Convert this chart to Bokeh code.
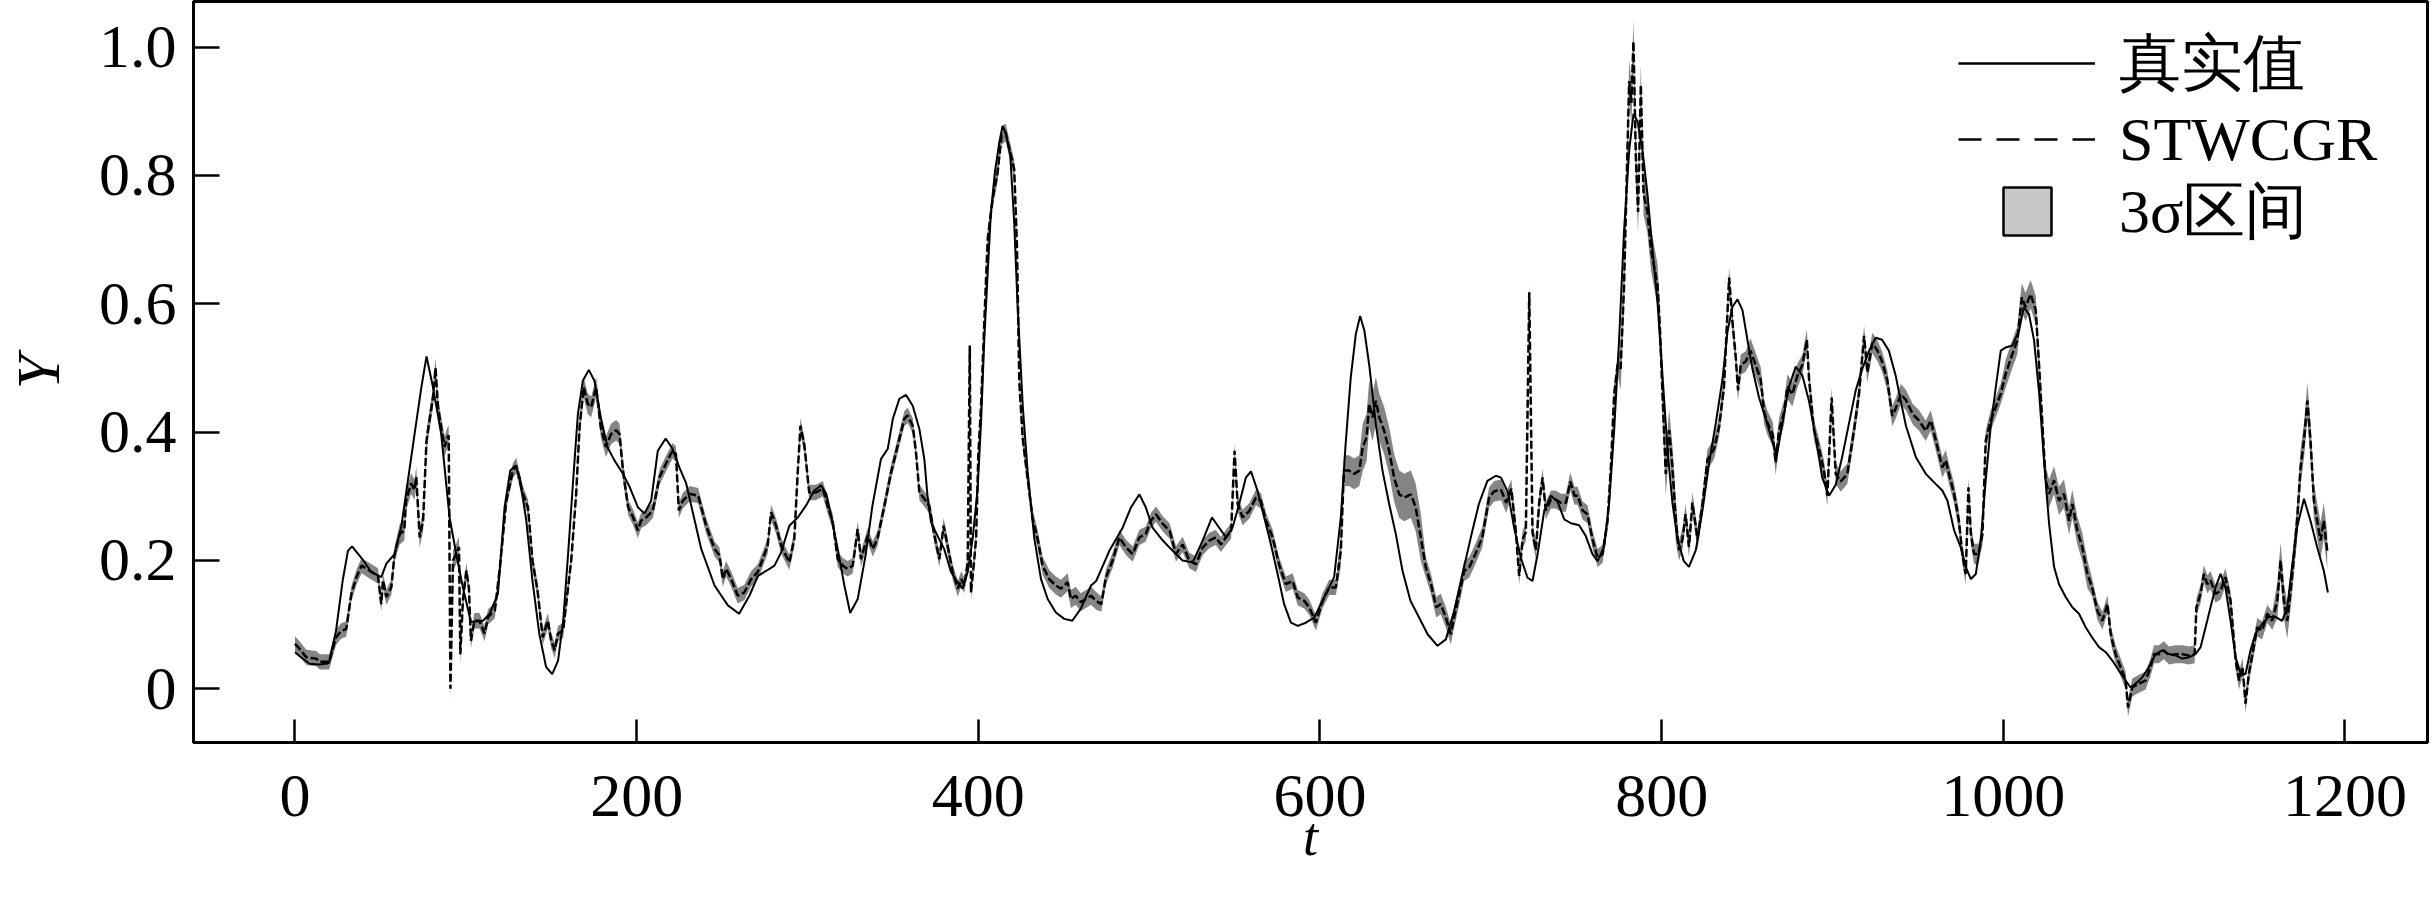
import numpy as np
from bokeh.plotting import figure
from bokeh.models import ColumnDataSource, FixedTicker, Legend, LegendItem, Range1d
from bokeh.core.properties import value
from bokeh.embed import file_html
from bokeh.resources import INLINE

# ---------------- data ----------------
t_true = [0, 4, 8.6, 14, 18.4, 20, 24, 28, 31, 33.4, 40, 44.7, 50.5, 53.5, 58.3, 62.2, 65, 70, 74, 77,
          80.8, 85.6, 90.5, 94.4, 98.3, 103, 110, 114, 118.8, 122.7, 126, 129, 131.5, 135.4, 139, 143, 147,
          150.6, 154, 157, 160, 162.7, 165.6, 168.5, 172, 175.3, 179, 183, 187, 192, 196, 200.7, 204.6,
          208.5, 212.4, 217, 221, 225, 229, 232, 237.8, 245.6, 253.4, 260, 266, 271, 276, 280.7, 284.6,
          289.4, 294.3, 299, 304, 308, 311, 313.8, 317.7, 321.6, 325, 329.4, 334, 338, 343, 347, 350,
          353.8, 357.7, 361.6, 365.5, 368.4, 370.4, 372.3, 376, 380, 384, 388, 390.8, 393.8, 396.7, 399.6,
          401.6, 403.5, 405.5, 407.4, 409.7, 412.3, 414.2, 416, 418.7, 421, 423, 426, 428.9, 432.8, 436.7,
          440.6, 445.4, 450.3, 455, 460, 466, 469, 476.7, 484.5, 489.4, 494.3, 498, 502, 508, 513.8, 519.6,
          525.5, 531.3, 536.8, 541, 545, 548.8, 552.7, 556.6, 559.6, 563.5, 567.4, 571.3, 575.2, 579, 583,
          587, 591.7, 596.6, 600.5, 604.4, 608.3, 612.2, 615, 618, 621, 623.5, 626, 629, 632.7, 636.6,
          640.5, 644.4, 648.3, 653, 658, 663, 668.8, 673.7, 678.5, 683.4, 688.3, 693, 698, 703, 706, 710,
          713.7, 717.6, 721.5, 724.4, 727.4, 731.3, 735.2, 739, 743, 746.9, 751.7, 755.6, 759.5, 762.5,
          766.3, 769.3, 772.2, 775.1, 778, 781, 783.5, 785.9, 788.8, 791.7, 794.6, 797.6, 800.5, 803.4,
          806.3, 809.3, 813, 816, 820, 823.9, 827.8, 831.7, 835.6, 838.5, 841.4, 844.4, 847.3, 850.2,
          853.1, 857, 861, 864.8, 867.4, 870.7, 874.6, 878.5, 882.4, 886.3, 890.2, 894, 898, 901.9, 905.8,
          909.7, 913.6, 917.5, 921.4, 925.3, 929, 933, 937, 940, 943, 948.8, 954.6, 960.5, 964.3, 967.3,
          971.2, 975, 978, 981, 983.9, 986.8, 989.7, 992.6, 995.6, 998.5, 1001.4, 1005.3, 1009.2, 1012,
          1015, 1018, 1021, 1023.8, 1026.8, 1029.7, 1032.6, 1036.5, 1040.4, 1044.3, 1048.2, 1052, 1056,
          1060, 1063.8, 1067.7, 1071.6, 1074.5, 1077.5, 1081.4, 1085.3, 1089.1, 1093, 1097, 1100.8,
          1104.7, 1108.6, 1112.5, 1115.5, 1118.4, 1121.3, 1124.2, 1127.2, 1130, 1133, 1136, 1139, 1141.8,
          1144.7, 1147.6, 1151.5, 1155.4, 1159.3, 1163.2, 1166.2, 1169, 1172, 1176, 1179.8, 1183.7,
          1187.6, 1190]
y_true = [0.057, 0.048, 0.039, 0.038, 0.039, 0.041, 0.09, 0.17, 0.215, 0.222, 0.20, 0.182, 0.174, 0.195,
          0.21, 0.252, 0.304, 0.397, 0.47, 0.518, 0.47, 0.397, 0.267, 0.21, 0.158, 0.104, 0.106, 0.117,
          0.148, 0.283, 0.34, 0.348, 0.33, 0.262, 0.169, 0.086, 0.034, 0.023, 0.044, 0.106, 0.215, 0.32,
          0.428, 0.48, 0.497, 0.48, 0.423, 0.376, 0.356, 0.335, 0.314, 0.283, 0.273, 0.293, 0.371, 0.39,
          0.374, 0.345, 0.32, 0.285, 0.218, 0.161, 0.13, 0.117, 0.145, 0.176, 0.184, 0.192, 0.213, 0.254,
          0.267, 0.285, 0.309, 0.317, 0.304, 0.27, 0.218, 0.161, 0.118, 0.14, 0.208, 0.285, 0.358, 0.374,
          0.421, 0.452, 0.458, 0.441, 0.405, 0.358, 0.296, 0.26, 0.239, 0.218, 0.182, 0.166, 0.156, 0.182,
          0.234, 0.312, 0.415, 0.545, 0.649, 0.743, 0.805, 0.852, 0.877, 0.867, 0.831, 0.727, 0.597,
          0.441, 0.338, 0.234, 0.171, 0.14, 0.119, 0.109, 0.106, 0.125, 0.161, 0.168, 0.215, 0.251, 0.283,
          0.303, 0.283, 0.251, 0.231, 0.215, 0.2, 0.197, 0.231, 0.267, 0.251, 0.236, 0.251, 0.288, 0.329,
          0.339, 0.308, 0.267, 0.225, 0.179, 0.132, 0.103, 0.098, 0.103, 0.111, 0.132, 0.153, 0.174,
          0.267, 0.381, 0.485, 0.553, 0.581, 0.558, 0.501, 0.412, 0.34, 0.288, 0.241, 0.184, 0.137, 0.111,
          0.085, 0.067, 0.077, 0.121, 0.179, 0.236, 0.288, 0.324, 0.332, 0.329, 0.306, 0.25, 0.204, 0.173,
          0.168, 0.21, 0.278, 0.301, 0.292, 0.264, 0.258, 0.255, 0.238, 0.21, 0.199, 0.221, 0.29, 0.403,
          0.544, 0.714, 0.839, 0.896, 0.884, 0.839, 0.771, 0.686, 0.601, 0.488, 0.374, 0.29, 0.233, 0.199,
          0.19, 0.216, 0.278, 0.352, 0.414, 0.482, 0.556, 0.595, 0.607, 0.59, 0.544, 0.499, 0.454, 0.42,
          0.386, 0.363, 0.414, 0.471, 0.502, 0.488, 0.448, 0.391, 0.329, 0.301, 0.318, 0.363, 0.414, 0.465,
          0.499, 0.527, 0.547, 0.544, 0.527, 0.488, 0.448, 0.41, 0.361, 0.335, 0.319, 0.309, 0.293, 0.247,
          0.221, 0.19, 0.171, 0.179, 0.231, 0.325, 0.408, 0.47, 0.527, 0.532, 0.535, 0.558, 0.595, 0.584,
          0.543, 0.46, 0.356, 0.257, 0.19, 0.163, 0.143, 0.127, 0.117, 0.096, 0.08, 0.065, 0.057, 0.044,
          0.028, 0.013, 0.002, 0.008, 0.018, 0.034, 0.054, 0.06, 0.054, 0.052, 0.047, 0.049, 0.054, 0.065,
          0.096, 0.127, 0.158, 0.179, 0.158, 0.106, 0.049, 0.023, 0.023, 0.06, 0.086, 0.101, 0.112, 0.112,
          0.106, 0.127, 0.19, 0.252, 0.296, 0.262, 0.221, 0.184, 0.15]

t_pred = [0, 1.8, 6.7, 12.5, 14.5, 20, 24, 27, 30, 33, 36, 39, 43.7, 48.6, 50.5, 51.5, 53.5, 56.4, 58.3,
          61.3, 64, 65, 68, 70, 71, 73, 75, 77, 79, 80.8, 82.3, 83.7, 85.6, 87.6, 88.6, 90, 91, 92.5, 94.4,
          96, 96.8, 98.3, 100.3, 101.8, 103, 105, 108, 111, 113, 117, 120, 123.7, 127.6, 129.5, 133.4,
          136.4, 139, 142, 145, 148, 150, 152, 154, 157, 159, 161.7, 164.6, 166.6, 169, 171.4, 173.4,
          176.3, 179, 182, 185, 188, 190, 192, 195, 198, 200.7, 202.6, 205.6, 209.5, 213.4, 217, 221, 223,
          224.7, 227, 231, 236, 240.7, 245.6, 248.5, 250.4, 252.4, 255.3, 259.2, 263, 267, 270.9, 273.8,
          276.7, 278.7, 281.6, 284.6, 289.4, 292.3, 294.3, 295.9, 298.2, 301, 305, 309, 311.8, 314.8,
          317.7, 320.6, 323.5, 326.5, 329.4, 331.3, 335.3, 338.2, 341, 345, 349, 352.8, 356.7, 358.7,
          361.6, 363.5, 365.5, 368.4, 371.3, 374.3, 377.2, 379.7, 382, 385, 388, 390, 391.8, 393.8, 395,
          395.7, 397.3, 398.7, 400, 401.6, 403.5, 405.5, 408.4, 411.3, 413.6, 416, 418.7, 421, 422.6, 424,
          426, 428.9, 431.8, 434.7, 437.6, 441.5, 445.4, 448.4, 452.3, 454.2, 457, 460, 463, 466, 469, 472,
          474.7, 478.6, 482.6, 486.5, 490.4, 494.3, 498, 501, 504, 508, 512, 515.7, 519.6, 523.5, 527.4,
          531.3, 535.2, 539, 542, 545, 548, 550, 551.8, 554.7, 558.6, 562.5, 565.4, 568.4, 572.3, 576,
          580, 584, 587, 590.8, 593.7, 597.6, 601.5, 605.4, 609.3, 612.2, 614, 617, 620, 623, 625, 627.3,
          628.8, 630.8, 632.7, 634.7, 637.6, 640.5, 643.4, 646.4, 649.3, 653.2, 656, 659, 662, 665, 668,
          670.7, 673.7, 676.6, 678.5, 681.5, 684.4, 687.3, 691, 695, 699, 702, 706, 709, 712, 714.7,
          716.6, 718.6, 720.5, 722.5, 724.4, 726.4, 728.3, 730.3, 732.2, 735.2, 738, 741, 744, 746.5, 749,
          750.8, 753.7, 756.6, 759.5, 762.5, 765.4, 768.3, 770.3, 772.2, 774.2, 776, 778, 779.6, 781,
          782.3, 783.5, 784.9, 786.2, 787.8, 789.4, 791.7, 793.7, 795.6, 797.6, 799, 800.5, 802.4, 804.4,
          806.3, 808.3, 810.2, 812.2, 814, 816, 818, 821, 824, 826.8, 830.7, 833.6, 836.5, 839.5, 841.4,
          843.4, 844.7, 846.3, 849.2, 852, 855, 858, 860, 862, 865, 866.8, 868.7, 871.7, 873.6, 876.5,
          879.5, 882.4, 885, 886.3, 889.2, 892.1, 895, 897, 899.5, 901.9, 904.8, 908.7, 912.6, 915.5,
          918.5, 920.4, 923.3, 926.3, 929, 932, 935, 937, 940, 943, 947, 950.7, 954.6, 957.5, 960.5,
          962.4, 964.3, 966.3, 968.2, 971.2, 974, 976, 978, 979.6, 981, 982.9, 985.4, 987.8, 989.7, 992.6,
          995.6, 998.5, 1001.4, 1005.3, 1008.2, 1010.8, 1013, 1016, 1019, 1021, 1023.2, 1024.8, 1026.8,
          1029.7, 1032.6, 1035.5, 1038.5, 1040.4, 1043.3, 1046.2, 1049.2, 1052, 1055, 1058, 1061, 1062.8,
          1065.7, 1068.6, 1071.6, 1073, 1075.5, 1079.4, 1083.3, 1086.2, 1088.2, 1091, 1094, 1097, 1100.8,
          1104.7, 1108.6, 1112, 1113, 1115.5, 1117.4, 1119.4, 1121.3, 1124.2, 1127.2, 1130, 1133, 1136,
          1138, 1140, 1141.8, 1143.7, 1146.6, 1148.6, 1151.5, 1154.5, 1157.4, 1160.4, 1162.3, 1164.2,
          1166.2, 1169, 1172, 1174, 1176, 1178, 1179.8, 1181.8, 1183.7, 1185.7, 1187.6, 1189.6]
y_pred = [0.07, 0.065, 0.049, 0.047, 0.042, 0.042, 0.08, 0.09, 0.093, 0.148, 0.174, 0.192, 0.184, 0.176,
          0.132, 0.169, 0.143, 0.158, 0.21, 0.241, 0.247, 0.293, 0.32, 0.31, 0.33, 0.236, 0.262, 0.387,
          0.423, 0.454, 0.5, 0.439, 0.408, 0.377, 0.387, 0.395, 0.0, 0.2, 0.21, 0.221, 0.054, 0.138, 0.184,
          0.158, 0.075, 0.106, 0.106, 0.086, 0.112, 0.122, 0.19, 0.293, 0.34, 0.348, 0.304, 0.283, 0.2,
          0.153, 0.08, 0.106, 0.075, 0.06, 0.086, 0.091, 0.138, 0.2, 0.304, 0.408, 0.47, 0.444, 0.439,
          0.47, 0.408, 0.377, 0.397, 0.403, 0.397, 0.34, 0.283, 0.267, 0.247, 0.262, 0.267, 0.278, 0.33,
          0.35, 0.371, 0.366, 0.278, 0.293, 0.304, 0.301, 0.254, 0.218, 0.208, 0.171, 0.187, 0.171, 0.145,
          0.15, 0.171, 0.182, 0.202, 0.223, 0.275, 0.254, 0.223, 0.197, 0.234, 0.338, 0.41, 0.379, 0.306,
          0.306, 0.312, 0.285, 0.26, 0.202, 0.192, 0.187, 0.192, 0.249, 0.202, 0.239, 0.218, 0.234, 0.285,
          0.338, 0.379, 0.421, 0.426, 0.41, 0.369, 0.306, 0.296, 0.285, 0.239, 0.202, 0.254, 0.223, 0.182,
          0.156, 0.171, 0.161, 0.197, 0.535, 0.15, 0.192, 0.234, 0.364, 0.441, 0.571, 0.701, 0.764, 0.805,
          0.862, 0.867, 0.836, 0.81, 0.691, 0.478, 0.39, 0.327, 0.265, 0.234, 0.192, 0.171, 0.161, 0.156,
          0.166, 0.14, 0.145, 0.135, 0.14, 0.145, 0.137, 0.132, 0.174, 0.2, 0.236, 0.22, 0.21, 0.236,
          0.241, 0.262, 0.272, 0.257, 0.246, 0.21, 0.225, 0.2, 0.194, 0.22, 0.231, 0.236, 0.225, 0.236,
          0.246, 0.371, 0.288, 0.267, 0.277, 0.298, 0.293, 0.262, 0.236, 0.194, 0.163, 0.168, 0.142, 0.137,
          0.127, 0.103, 0.137, 0.158, 0.158, 0.215, 0.34, 0.34, 0.335, 0.34, 0.376, 0.392, 0.444, 0.423,
          0.449, 0.423, 0.402, 0.371, 0.329, 0.303, 0.298, 0.303, 0.283, 0.236, 0.189, 0.163, 0.127, 0.132,
          0.111, 0.085, 0.111, 0.147, 0.184, 0.189, 0.21, 0.236, 0.298, 0.308, 0.31, 0.29, 0.312, 0.244,
          0.176, 0.233, 0.244, 0.618, 0.244, 0.216, 0.29, 0.329, 0.278, 0.295, 0.295, 0.29, 0.29, 0.323,
          0.301, 0.301, 0.278, 0.272, 0.233, 0.204, 0.21, 0.261, 0.346, 0.459, 0.505, 0.499, 0.629, 0.8,
          0.947, 0.913, 1.009, 0.828, 0.743, 0.941, 0.771, 0.743, 0.686, 0.658, 0.629, 0.561, 0.459, 0.335,
          0.403, 0.346, 0.261, 0.216, 0.233, 0.272, 0.221, 0.29, 0.233, 0.29, 0.357, 0.374, 0.408, 0.471,
          0.641, 0.573, 0.516, 0.465, 0.505, 0.51, 0.527, 0.505, 0.482, 0.431, 0.414, 0.397, 0.352, 0.403,
          0.431, 0.471, 0.459, 0.488, 0.505, 0.544, 0.482, 0.403, 0.374, 0.34, 0.301, 0.454, 0.335, 0.323,
          0.335, 0.403, 0.459, 0.55, 0.493, 0.539, 0.527, 0.51, 0.482, 0.425, 0.437, 0.459, 0.45, 0.428,
          0.418, 0.402, 0.418, 0.387, 0.366, 0.345, 0.356, 0.335, 0.304, 0.262, 0.21, 0.179, 0.314, 0.241,
          0.21, 0.21, 0.241, 0.387, 0.418, 0.439, 0.46, 0.491, 0.522, 0.543, 0.61, 0.595, 0.615, 0.59,
          0.501, 0.397, 0.325, 0.304, 0.325, 0.293, 0.304, 0.262, 0.288, 0.247, 0.221, 0.179, 0.158, 0.122,
          0.106, 0.132, 0.086, 0.054, 0.034, 0.013, -0.029, 0.002, 0.008, 0.013, 0.034, 0.054, 0.054, 0.06,
          0.052, 0.054, 0.054, 0.052, 0.054, 0.127, 0.148, 0.179, 0.163, 0.169, 0.148, 0.153, 0.174, 0.138,
          0.044, 0.013, 0.034, -0.023, 0.023, 0.065, 0.096, 0.091, 0.117, 0.106, 0.138, 0.2, 0.138, 0.106,
          0.174, 0.262, 0.345, 0.387, 0.449, 0.387, 0.293, 0.262, 0.231, 0.262, 0.215]

# half-width of the 3-sigma band, read region by region (region starts at t)
band_region_start = [0, 60, 100, 165, 195, 400, 470, 612, 625, 660, 710, 775, 810, 850, 880, 1000, 1050, 1160]
band_region_half = [0.012, 0.016, 0.012, 0.016, 0.012, 0.014, 0.012, 0.024, 0.037, 0.016, 0.014, 0.033,
                    0.016, 0.019, 0.016, 0.022, 0.014, 0.028]

x_ticks = [0, 200, 400, 600, 800, 1000, 1200]
y_ticks = [0, 0.2, 0.4, 0.6, 0.8, 1.0]
y_tick_labels = ["0", "0.2", "0.4", "0.6", "0.8", "1.0"]
legend_labels = ["真实值", "STWCGR", "3σ区间"]
x_label = "t"
y_label = "Y"

# ---------------- build ----------------
tp = np.array(t_pred, dtype=float)
yp = np.array(y_pred, dtype=float)
idx = np.searchsorted(np.array(band_region_start), tp, side="right") - 1
half = np.array(band_region_half)[idx]

src_true = ColumnDataSource(dict(t=t_true, y=y_true))
src_pred = ColumnDataSource(dict(t=tp, y=yp, lo=yp - half, hi=yp + half))

SERIF = "Liberation Serif"

X0, X1 = -59.4, 1248.3
Y0, Y1 = -0.0837, 1.0711

p = figure(width=2430, height=899, output_backend="svg", toolbar_location=None,
           x_range=Range1d(X0, X1), y_range=Range1d(Y0, Y1),
           min_border_left=192, min_border_right=3, min_border_top=1, min_border_bottom=157,
           background_fill_color="white", border_fill_color="white")

p.varea(x="t", y1="lo", y2="hi", source=src_pred, fill_color="#858585")
true_r = p.line("t", "y", source=src_true, line_color="black", line_width=2)
pred_r = p.line("t", "y", source=src_pred, line_color="black", line_width=2.5, line_dash="8 3")

# legend glyph renderers: their single point lies outside the visible ranges
off_x = [X0 - 500, X0 - 499]
off_y = [Y0 - 5, Y0 - 5]
leg_true = p.line(x=off_x, y=off_y, line_color="black", line_width=2.5)
leg_pred = p.line(x=off_x, y=off_y, line_color="black", line_width=2.5, line_dash="23 15")
leg_band = p.quad(left=[X0 - 500], right=[X0 - 499], top=[Y0 - 5], bottom=[Y0 - 6],
                  fill_color="#c8c8c8", line_color="black", line_width=2.5)

common = dict(orientation="vertical", padding=0, margin=0, spacing=0, border_line_color=None,
              background_fill_alpha=0, label_text_font=SERIF, label_text_font_size="62px",
              label_text_color="black")
leg1 = Legend(items=[LegendItem(label=value(legend_labels[0]), renderers=[leg_true])],
              location=(1765, 637), glyph_width=137, glyph_height=78, label_standoff=24, **common)
leg2 = Legend(items=[LegendItem(label=value(legend_labels[1]), renderers=[leg_pred])],
              location=(1765, 564), glyph_width=137, glyph_height=78, label_standoff=24, **common)
leg3 = Legend(items=[LegendItem(label=value(legend_labels[2]), renderers=[leg_band])],
              location=(1804, 489), glyph_width=60, glyph_height=60, label_standoff=62, **common)
p.add_layout(leg1)
p.add_layout(leg2)
p.add_layout(leg3)

p.xaxis.ticker = FixedTicker(ticks=x_ticks)
p.yaxis.ticker = FixedTicker(ticks=y_ticks)
p.yaxis.major_label_overrides = {v: s for v, s in zip(y_ticks, y_tick_labels)}
p.xaxis.axis_label = x_label
p.yaxis.axis_label = y_label
for ax in (p.xaxis[0], p.yaxis[0]):
    ax.major_tick_out = 0
    ax.minor_tick_in = 0
    ax.minor_tick_out = 0
    ax.axis_line_width = 3
    ax.axis_line_color = "black"
    ax.major_tick_line_width = 2.5
    ax.major_tick_line_color = "black"
    ax.major_label_text_font = SERIF
    ax.major_label_text_color = "black"
    ax.major_label_text_font_size = "62px"
    ax.axis_label_text_font = SERIF
    ax.axis_label_text_font_style = "italic"
    ax.axis_label_text_color = "black"
p.xaxis.major_tick_in = 23
p.yaxis.major_tick_in = 26
p.xaxis.axis_label_text_font_size = "54px"
p.yaxis.axis_label_text_font_size = "62px"
p.xaxis.major_label_standoff = 33
p.xaxis.axis_label_standoff = -12
p.yaxis.major_label_standoff = 17
p.yaxis.axis_label_standoff = 24

p.grid.visible = False
p.outline_line_color = "black"
p.outline_line_width = 3

open("out.html", "w").write(file_html(p, INLINE))
